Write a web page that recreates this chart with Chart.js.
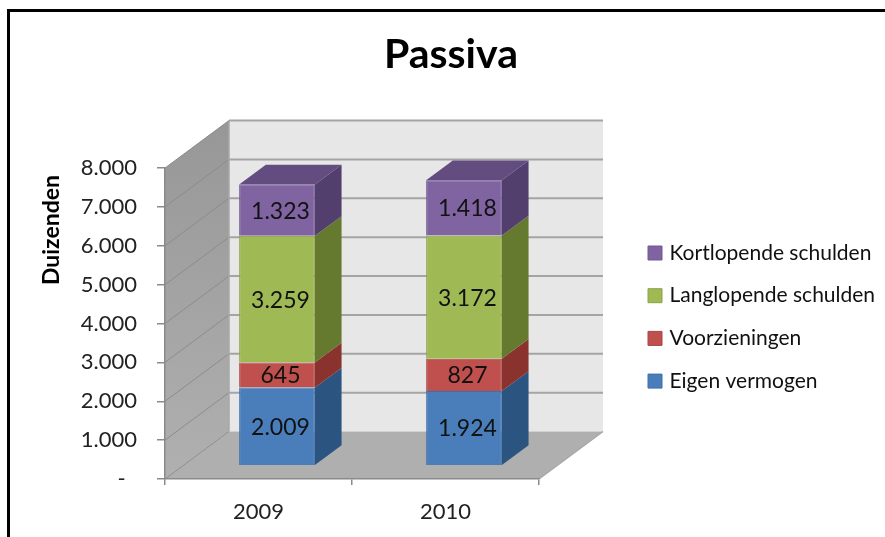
<!DOCTYPE html>
<html>
<head>
<meta charset="utf-8">
<script src="https://cdn.jsdelivr.net/npm/chart.js@4"></script>
<style>
html,body{margin:0;padding:0;background:#fff;overflow:hidden}
#wrap{position:relative;width:885px;height:537px;overflow:hidden;filter:blur(0.4px)}
#frame{position:absolute;left:7px;top:9px;width:885px;height:540px;border-left:3px solid #000;border-top:3px solid #000;pointer-events:none}
canvas{display:block;position:absolute;left:0;top:0}
</style>
</head>
<body>
<div id="wrap"><canvas id="c" width="885" height="537"></canvas><div id="frame"></div></div>
<script>
const categories = ['2009', '2010'];
const eigenVermogen = [2009, 1924];
const voorzieningen = [645, 827];
const langlopendeSchulden = [3259, 3172];
const kortlopendeSchulden = [1323, 1418];
const valueLabels = {
  0: ['2.009', '1.924'],
  1: ['645', '827'],
  2: ['3.259', '3.172'],
  3: ['1.323', '1.418']
};
const yTickLabels = ['-  ', '1.000', '2.000', '3.000', '4.000', '5.000', '6.000', '7.000', '8.000'];
const titleText = 'Passiva';
const yTitle = 'Duizenden';

const FONT = 'Lato, Carlito, Calibri, sans-serif';
const sideColors = ['#2c5480', '#8a322e', '#65792f', '#523f6e'];
const topColor = '#634c80';
const WALL = {dx: 64, dy: -47.5};
const BAR_OFFSET = {x: 18.5, y: -13.3};
const BAR_DEPTH = {dx: 26.7, dy: -19.7};

function poly(ctx, pts, fill) {
  ctx.beginPath();
  pts.forEach((p, i) => i ? ctx.lineTo(p[0], p[1]) : ctx.moveTo(p[0], p[1]));
  ctx.closePath();
  ctx.fillStyle = fill;
  ctx.fill();
}

const scene3d = {
  id: 'scene3d',
  afterLayout(chart) {
    const t = chart.titleBlock;
    t.left += 95;
    const lg = chart.legend;
    lg.left = 651 - lg.options.labels.padding;
    lg.right = 885;
    lg.width = 885 - lg.left;
    lg.top = 242.5 - lg.options.labels.padding;
    lg.bottom = 500;
    const yS = chart.scales.y;
    if (!yS._patched) {
      const orig = yS.drawTitle;
      yS.drawTitle = function () {
        const c = this.ctx;
        c.save();
        c.translate(0, 7);
        orig.apply(this, arguments);
        c.restore();
      };
      yS._patched = true;
    }
  },
  beforeDraw(chart) {
    const {ctx, chartArea: a, scales: {y}} = chart;
    const bt = y.getPixelForValue(8000), bb = y.getPixelForValue(0);
    const L = a.left, R = a.right, dx = WALL.dx, dy = WALL.dy;
    ctx.save();
    const g = ctx.createLinearGradient(0, bt + dy, 0, bb);
    g.addColorStop(0, '#979797');
    g.addColorStop(1, '#b0b0b0');
    poly(ctx, [[L, bt], [L + dx, bt + dy], [L + dx, bb + dy], [L, bb]], g);
    poly(ctx, [[L + dx, bt + dy], [R + dx, bt + dy], [R + dx, bb + dy], [L + dx, bb + dy]], '#e7e7e7');
    poly(ctx, [[L, bb], [L + dx, bb + dy], [R + dx, bb + dy], [R, bb]], '#afafaf');
    y.ticks.forEach(tk => {
      const p = y.getPixelForValue(tk.value);
      ctx.lineWidth = 1;
      ctx.strokeStyle = '#8c8c8c';
      ctx.beginPath();
      ctx.moveTo(L, p);
      ctx.lineTo(L + dx, p + dy);
      ctx.stroke();
      if (tk.value > 0) {
        ctx.lineWidth = 2;
        ctx.strokeStyle = '#a4a4a4';
        ctx.beginPath();
        ctx.moveTo(L + dx, p + dy);
        ctx.lineTo(R + dx, p + dy);
        ctx.stroke();
      }
    });
    ctx.lineWidth = 1.5;
    ctx.strokeStyle = '#a8a8a8';
    ctx.beginPath();
    ctx.moveTo(L + dx, bt + dy);
    ctx.lineTo(L + dx, bb + dy);
    ctx.moveTo(R, bb);
    ctx.lineTo(R + dx, bb + dy);
    ctx.stroke();
    ctx.restore();
  },
  beforeDatasetsDraw(chart) {
    const {ctx} = chart;
    ctx.save();
    ctx.translate(BAR_OFFSET.x, BAR_OFFSET.y);
    const n = chart.data.datasets.length;
    chart.data.datasets.forEach((ds, di) => {
      chart.getDatasetMeta(di).data.forEach(b => {
        const r = b.x + b.width / 2, l = b.x - b.width / 2;
        const dx = BAR_DEPTH.dx, dy = BAR_DEPTH.dy;
        poly(ctx, [[r, b.base], [r + dx, b.base + dy], [r + dx, b.y + dy], [r, b.y]], sideColors[di]);
        if (di === n - 1) {
          poly(ctx, [[l, b.y], [l + dx, b.y + dy], [r + dx, b.y + dy], [r, b.y]], topColor);
        }
      });
    });
  },
  afterDatasetsDraw(chart) {
    const {ctx} = chart;
    ctx.restore();
    ctx.save();
    ctx.font = '23px ' + FONT;
    ctx.fillStyle = '#111';
    ctx.textAlign = 'center';
    ctx.textBaseline = 'middle';
    chart.data.datasets.forEach((ds, di) => {
      chart.getDatasetMeta(di).data.forEach((b, i) => {
        ctx.fillText(valueLabels[di][i], b.x + BAR_OFFSET.x + 3.5, (b.y + b.base) / 2 + BAR_OFFSET.y + 1);
      });
    });
    ctx.restore();
  }
};

function ds(label, data, color, border) {
  return {label, data, backgroundColor: color, borderColor: border, borderWidth: 1, stack: 's',
    barPercentage: 0.405, categoryPercentage: 1};
}

new Chart(document.getElementById('c'), {
  type: 'bar',
  data: {
    labels: categories,
    datasets: [
      ds('Eigen vermogen', eigenVermogen, '#4a7ebb', '#3f6fa8'),
      ds('Voorzieningen', voorzieningen, '#c0504d', '#a84643'),
      ds('Langlopende schulden', langlopendeSchulden, '#9fb955', '#8ca34a'),
      ds('Kortlopende schulden', kortlopendeSchulden, '#8064a2', '#70588e')
    ]
  },
  plugins: [scene3d],
  options: {
    responsive: false,
    animation: false,
    devicePixelRatio: 1,
    layout: {padding: {left: 38, right: 116, top: 0, bottom: 0}},
    plugins: {
      tooltip: {enabled: false},
      title: {
        display: true,
        text: titleText,
        color: '#000',
        font: {family: FONT, size: 41, weight: 'bold', lineHeight: 1.2},
        padding: {top: 30.4, bottom: 88.4}
      },
      legend: {
        position: 'right',
        align: 'start',
        reverse: true,
        maxWidth: 230,
        labels: {
          usePointStyle: true,
          pointStyle: 'rect',
          boxWidth: 8,
          boxHeight: 14,
          padding: 21.7,
          color: '#111',
          font: {family: FONT, size: 21}
        }
      }
    },
    scales: {
      x: {
        stacked: true,
        afterFit(s) { s.height = 58; },
        grid: {display: true, drawOnChartArea: false, offset: true, color: '#8a8a8a', tickLength: 6, lineWidth: 1.5},
        border: {color: '#8a8a8a', width: 1.5},
        ticks: {color: '#222', font: {family: FONT, size: 22}, padding: 13.8, maxRotation: 0}
      },
      y: {
        stacked: true,
        min: 0,
        max: 8000,
        afterFit(s) { s.width = 127; },
        grid: {display: true, drawOnChartArea: false, color: '#8a8a8a', tickLength: 8, lineWidth: 1.5},
        border: {color: '#8a8a8a', width: 1.5},
        ticks: {
          stepSize: 1000,
          color: '#222',
          font: {family: FONT, size: 22},
          padding: 20,
          callback(v, i) { return yTickLabels[i]; }
        },
        title: {
          display: true,
          text: yTitle,
          align: 'end',
          color: '#000',
          font: {family: FONT, size: 23, weight: 'bold', lineHeight: 1.2},
          padding: {top: 0, bottom: 0}
        }
      }
    }
  }
});
</script>
</body>
</html>
